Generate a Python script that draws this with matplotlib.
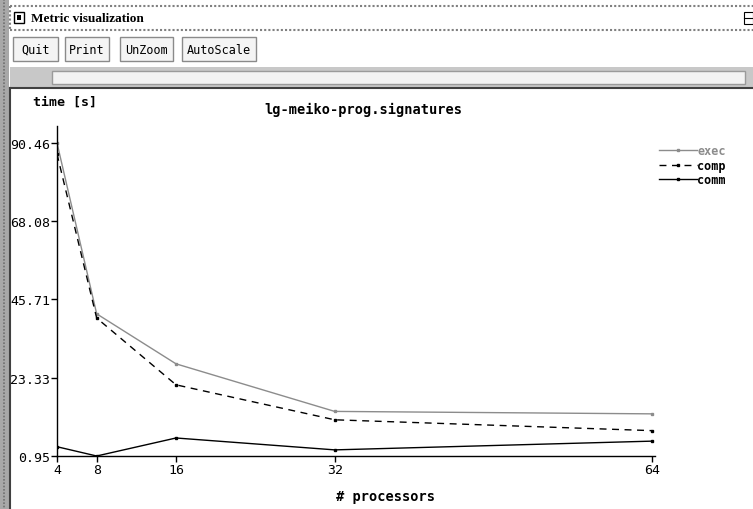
import matplotlib.pyplot as plt
from matplotlib.patches import Rectangle
from matplotlib.lines import Line2D

# data
procs = [4, 8, 16, 32, 64]
exec_t = [90.46, 41.6, 27.3, 13.7, 13.0]
comp_t = [87.3, 40.4, 21.3, 11.3, 8.2]
comm_t = [3.6, 0.95, 6.1, 2.7, 5.2]
yticks = [0.95, 23.33, 45.71, 68.08, 90.46]
ytick_labels = ["0.95", "23.33", "45.71", "68.08", "90.46"]
buttons = ["Quit", "Print", "UnZoom", "AutoScale"]

W, H = 753, 510
fig = plt.figure(figsize=(W / 100, H / 100), dpi=100)
fig.patch.set_facecolor("white")


def fx(x):
    return x / W


def fy(y):
    return 1 - y / H


def rect(x0, y0, x1, y1, **kw):
    r = Rectangle((fx(x0), fy(y1)), fx(x1) - fx(x0), fy(y0) - fy(y1),
                  transform=fig.transFigure, **kw)
    fig.patches.append(r)


def hline(x0, x1, y, **kw):
    fig.add_artist(Line2D([fx(x0), fx(x1)], [fy(y), fy(y)], transform=fig.transFigure, **kw))


def vline(x, y0, y1, **kw):
    fig.add_artist(Line2D([fx(x), fx(x)], [fy(y0), fy(y1)], transform=fig.transFigure, **kw))


# window chrome
rect(0, 0, 9, H, facecolor="#a8a8a8", edgecolor="none")
vline(4, 0, H, color="#707070", lw=1.2, ls=(0, (1, 1)))
# title bar
hline(10, W, 7, color="#808080", lw=1.5, ls=(0, (1, 1)))
hline(10, W, 31, color="#808080", lw=1.5, ls=(0, (1, 1)))
vline(10, 7, 31, color="#808080", lw=1.5, ls=(0, (1, 1)))
rect(14, 13, 24, 24, facecolor="white", edgecolor="black", lw=1)
rect(17, 16, 21, 21, facecolor="black", edgecolor="none")
fig.text(fx(31), fy(19), "Metric visualization", fontsize=9.5, fontweight="bold",
         family="Liberation Serif", va="center", ha="left")
rect(744, 13, 753, 25, facecolor="white", edgecolor="black", lw=0.8)
hline(744, 753, 19, color="black", lw=0.8)

# buttons
bx = [13, 65, 120, 182]
bw = [45, 44, 53, 74]
for lab, x0, w in zip(buttons, bx, bw):
    rect(x0, 38, x0 + w, 62, facecolor="#f4f4f4", edgecolor="#8a8a8a", lw=1)
    fig.text(fx(x0 + w / 2), fy(50), lab, fontsize=8.5, family="DejaVu Sans Mono",
             va="center", ha="center")

# scrollbar
rect(10, 68, W, 89, facecolor="#c8c8c8", edgecolor="none")
rect(52, 72, 745, 85, facecolor="#f2f2f2", edgecolor="#9a9a9a", lw=1)
fig.add_artist(plt.Polygon([[fx(14), fy(78)], [fx(21), fy(74)], [fx(21), fy(82)]],
                           closed=True, facecolor="#e8e8e8", edgecolor="#808080", lw=0.8,
                           transform=fig.transFigure))
hline(10, W, 89, color="#404040", lw=1.5)
vline(10, 89, H, color="#404040", lw=1.5)

# plot
x_left, x_right = 57, 655
y_top, y_bot = 127, 457
ax = fig.add_axes([fx(x_left), fy(y_bot), fx(x_right) - fx(x_left), fy(y_top) - fy(y_bot)])
ax.set_facecolor("white")

ax.plot(procs, exec_t, color="#8c8c8c", lw=1, marker="s", ms=2, label="exec")
ax.plot(procs, comp_t, color="black", lw=1, ls=(0, (5, 4)), marker="s", ms=2, label="comp")
ax.plot(procs, comm_t, color="black", lw=1, marker="s", ms=2, label="comm")

ax.set_xlim(4, 64.3)
ax.set_ylim(0.95, 95.3)
ax.set_xticks(procs)
ax.set_yticks(yticks)
ax.set_yticklabels(ytick_labels)
ax.tick_params(axis="both", direction="out", length=4, width=1, pad=1,
               labelsize=9.5, labelfontfamily="DejaVu Sans Mono")
for s in ["top", "right"]:
    ax.spines[s].set_visible(False)
for s in ["left", "bottom"]:
    ax.spines[s].set_linewidth(1)

fig.text(fx(33), fy(102), "time [s]", fontsize=9.5, fontweight="bold",
         family="DejaVu Sans Mono", va="center", ha="left")
fig.text(fx(363), fy(110), "lg-meiko-prog.signatures", fontsize=9.8, fontweight="bold",
         family="DejaVu Sans Mono", va="center", ha="center")
fig.text(fx(386), fy(497), "# processors", fontsize=9.8, fontweight="bold",
         family="DejaVu Sans Mono", va="center", ha="center")

leg = ax.legend(loc="upper left", bbox_to_anchor=(fx(650), fy(136)), bbox_transform=fig.transFigure,
                frameon=False, handlelength=3.2, handletextpad=0.0, labelspacing=0.12,
                borderpad=0.3, prop={"family": "DejaVu Sans Mono", "weight": "bold", "size": 8.5})
leg.get_texts()[0].set_color("#8c8c8c")

fig.savefig("out.png", dpi=100)
